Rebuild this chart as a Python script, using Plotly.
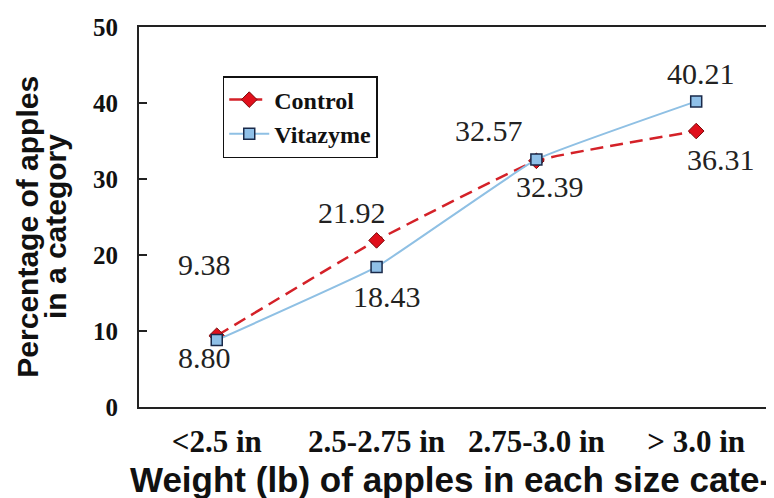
import plotly.graph_objects as go

categories = ["<2.5 in", "2.5-2.75 in", "2.75-3.0 in", "> 3.0 in"]
control = [9.38, 21.92, 32.39, 36.31]
vitazyme = [8.80, 18.43, 32.57, 40.21]
y_ticks = [0, 10, 20, 30, 40, 50]

xpos = list(range(len(categories)))

fig = go.Figure()
fig.add_trace(go.Scatter(
    x=xpos, y=control, name="Control", mode="lines+markers",
    line=dict(color="#d42128", width=2.5, dash="13px,7px", shape="spline", smoothing=0.3),
    marker=dict(symbol="diamond", size=12, color="#e0101c", line=dict(color="#7a0a0a", width=1)),
))
fig.add_trace(go.Scatter(
    x=xpos, y=vitazyme, name="Vitazyme", mode="lines+markers",
    line=dict(color="#8fc0e4", width=2, shape="spline", smoothing=0.3),
    marker=dict(symbol="square", size=11, color="#8fc0e8", line=dict(color="#1a2a4a", width=1.5)),
))

serif = "Times New Roman, Liberation Serif, Tinos, serif"
sans = "Liberation Sans"

ctrl_off = [(-12, 71), (-25, 28), (14, -26), (25, -28)]
vit_off = [(-12, -17), (10, -30), (-47, 29), (5, 28)]
ann = []
for i, v in enumerate(control):
    dx, dy = ctrl_off[i]
    ann.append(dict(x=xpos[i], y=v, text=f"{v:.2f}", showarrow=False, xshift=dx, yshift=dy,
                    font=dict(family=serif, size=30, color="#222", weight="normal")))
for i, v in enumerate(vitazyme):
    dx, dy = vit_off[i]
    ann.append(dict(x=xpos[i], y=v, text=f"{v:.2f}", showarrow=False, xshift=dx, yshift=dy,
                    font=dict(family=serif, size=30, color="#222", weight="normal")))

title_lines = ["Percentage of apples", "in a category"]
title_x = [-0.176, -0.131]
for t, xp in zip(title_lines, title_x):
    ann.append(dict(xref="paper", yref="paper", x=xp, y=0.474, xanchor="center", yanchor="middle",
                    text=t, textangle=-90, showarrow=False,
                    font=dict(family=sans, size=30, color="#111", weight="bold")))
ann.append(dict(xref="paper", yref="paper", x=-0.017, y=-0.19, xanchor="left", yanchor="middle",
                text="Weight (lb) of apples in each size cate-", showarrow=False,
                font=dict(family=sans, size=35, color="#111", weight="bold")))

fig.update_layout(
    width=766, height=490,
    margin=dict(l=131, r=1, t=19, b=91),
    paper_bgcolor="white", plot_bgcolor="white",
    showlegend=True,
    legend=dict(x=0.1325, y=0.871, xanchor="left", yanchor="top",
                bgcolor="white", bordercolor="#111", borderwidth=1.5,
                font=dict(family=serif, size=24, color="#111", weight="bold"),
                tracegroupgap=0, itemwidth=40),
    annotations=ann,
    xaxis=dict(range=[-0.4865, 3.468], tickvals=xpos, ticktext=categories,
               showgrid=False, zeroline=False, showline=True, linecolor="#222", linewidth=2,
               mirror=True, ticks="", ticklabelstandoff=6,
               tickfont=dict(family=serif, size=31, color="#111", weight="bold")),
    yaxis=dict(range=[0, 50], tickvals=y_ticks, showgrid=False, zeroline=False,
               showline=True, linecolor="#222", linewidth=2, mirror=True,
               ticks="inside", ticklen=8, tickcolor="#222", tickwidth=1.5,
               ticklabelstandoff=14,
               tickfont=dict(family=serif, size=25, color="#111", weight="bold")),
)

fig.write_html("out.html")
